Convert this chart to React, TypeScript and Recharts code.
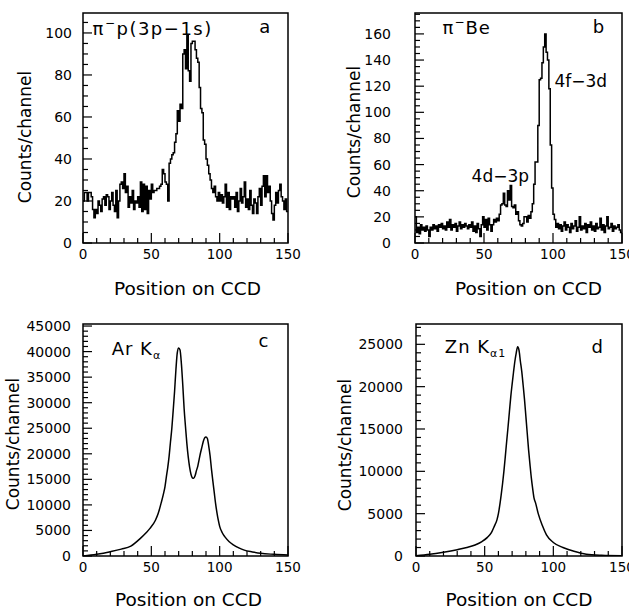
import React from 'react';
import { LineChart, Line, XAxis, YAxis, ReferenceArea, ReferenceDot, Label } from 'recharts';

const FONT = '"DejaVu Sans", "Liberation Sans", Arial, sans-serif';

// values
const xTickLabels = [0, 50, 100, 150];

// panel a: pi- p (3p-1s), one value per CCD channel 0..149
const pipCounts = [
  20, 24, 24, 20, 24, 24, 22, 16, 12, 16,
  14, 20, 18, 15, 21, 22, 18, 23, 22, 16,
  20, 24, 18, 15, 25, 12, 20, 28, 29, 26,
  33, 24, 27, 17, 22, 19, 25, 16, 20, 19,
  22, 17, 29, 15, 28, 16, 27, 14, 25, 21,
  28, 24, 25, 25, 26, 26, 27, 28, 35, 33,
  29, 28, 20, 38, 40, 42, 43, 48, 52, 63,
  58, 66, 64, 90, 92, 83, 99, 82, 77, 95,
  96, 96, 92, 88, 86, 74, 64, 62, 49, 47,
  40, 37, 33, 30, 26, 24, 27, 22, 20, 24,
  20, 23, 19, 22, 28, 17, 24, 16, 22, 21,
  22, 17, 24, 15, 20, 26, 19, 22, 29, 17,
  21, 16, 25, 18, 14, 21, 19, 14, 22, 26,
  18, 27, 32, 22, 32, 24, 27, 20, 14, 11,
  18, 24, 19, 25, 28, 22, 20, 16, 21, 15,
];

// panel b: pi- Be
const piBeCounts = [
  20, 8, 12, 7, 14, 10, 12, 9, 13, 10,
  5, 12, 10, 14, 11, 13, 9, 14, 12, 15,
  11, 13, 10, 16, 12, 18, 10, 14, 12, 15,
  9, 13, 16, 11, 14, 12, 15, 13, 11, 14,
  12, 16, 9, 13, 8, 15, 11, 5, 14, 20,
  12, 18, 10, 19, 14, 9, 14, 18, 16, 19,
  17, 22, 29, 30, 38, 29, 28, 40, 33, 44,
  28, 27, 29, 22, 24, 17, 14, 13, 15, 20,
  20, 16, 21, 19, 24, 30, 45, 62, 62, 90,
  125, 126, 138, 150, 160, 146, 140, 118, 75, 42,
  22, 18, 12, 15, 11, 14, 9, 13, 16, 10,
  14, 12, 8, 15, 11, 13, 17, 9, 12, 20,
  10, 13, 11, 15, 8, 14, 12, 16, 10, 13,
  9, 15, 11, 12, 19, 10, 14, 8, 13, 20,
  11, 12, 15, 9, 13, 11, 12, 14, 10, 8,
];

// panel c: Ar K-alpha
const arChannels = [
  0, 10, 20, 28, 35, 42, 46, 49, 53, 55, 57, 59, 60, 61, 62, 63, 64, 65, 66, 67,
  68, 69, 70, 71, 72, 73, 74, 75, 76, 77, 78, 79, 80, 81, 82, 83, 84, 85, 86, 87,
  88, 89, 90, 91, 92, 93, 94, 95, 96, 97, 98, 99, 100, 102, 104, 107, 110, 114, 118, 124,
  130, 140, 150,
];
const arCounts = [
  0, 350, 850, 1350, 1950, 3450, 4500, 5400, 7000, 8300, 10200, 12300, 13600, 15500, 17300, 19500, 22300, 25000, 28500, 32200,
  36500, 39800, 40700, 40300, 37600, 33500, 28800, 25300, 22000, 19400, 17400, 16000, 15300, 15200, 15700, 16700, 17600, 18900, 20200, 21300,
  22400, 23100, 23300, 23000, 21500, 19600, 17000, 14700, 12500, 10300, 8500, 7000, 5800, 4500, 3700, 2800, 2200, 1600, 1150, 800,
  520, 330, 200,
];

// panel d: Zn K-alpha1
const znChannels = [
  0, 10, 20, 30, 37, 43, 48, 52, 55, 57, 59, 60, 61, 62, 63, 64, 65, 66, 67, 68,
  69, 70, 71, 72, 73, 74, 75, 76, 77, 78, 79, 80, 81, 82, 83, 84, 85, 86, 87, 89,
  92, 95, 100, 107, 115, 124, 135, 150,
];
const znCounts = [
  30, 200, 450, 750, 1000, 1300, 1700, 2200, 2800, 3500, 4300, 5000, 6000, 7200, 8500, 10000, 11700, 13500, 15200, 17000,
  18800, 20300, 21700, 23000, 24000, 24700, 24300, 23000, 21800, 20200, 18500, 16500, 14500, 12500, 10800, 9200, 7900, 6800, 6300, 5000,
  3600, 2500, 1600, 1000, 550, 200, 80, 30,
];

const steps = (counts: number[]) => [
  ...counts.map((y, x) => ({ x, y })),
  { x: counts.length, y: counts[counts.length - 1] },
];
const points = (xs: number[], ys: number[]) => xs.map((x, i) => ({ x, y: ys[i] }));
const range = (to: number, step: number) =>
  Array.from({ length: Math.floor(to / step) + 1 }, (_, i) => i * step);

function XTick(props: any) {
  const { x, y, payload } = props;
  const major = xTickLabels.includes(payload.value);
  return (
    <g>
      <line x1={x} x2={x} y1={y} y2={y - (major ? 10 : 5)} stroke="#000" strokeWidth={1.2} />
      {major && (
        <text x={x} y={y + 16} textAnchor="middle" fontSize={13.5} fontFamily={FONT} fill="#000">
          {payload.value}
        </text>
      )}
    </g>
  );
}

function makeYTick(majorStep: number, gap: number) {
  return (props: any) => {
    const { x, y, payload } = props;
    const major = payload.value % majorStep === 0;
    return (
      <g>
        <line x1={x} x2={x + (major ? 9 : 5)} y1={y} y2={y} stroke="#000" strokeWidth={1.2} />
        {major && (
          <text x={x - gap} y={y} dy="0.36em" textAnchor="end" fontSize={14} fontFamily={FONT} fill="#000">
            {payload.value}
          </text>
        )}
      </g>
    );
  };
}

const note =
  (content: React.ReactNode, anchor: 'start' | 'middle' = 'start', size = 17, spacing = 0) =>
  (props: any) => {
    const vb = props.viewBox || {};
    return (
      <text
        x={vb.x}
        y={vb.y}
        textAnchor={anchor}
        fontSize={size}
        letterSpacing={spacing}
        fontFamily={FONT}
        fill="#000"
      >
        {content}
      </text>
    );
  };

type PanelProps = {
  left: number;
  top: number;
  width: number;
  height: number;
  margin: { top: number; right: number; bottom: number; left: number };
  yAxisWidth: number;
  xAxisHeight: number;
  data: { x: number; y: number }[];
  yMax: number;
  yTicks: number[];
  yMajor: number;
  labelGap: number;
  curve: 'stepAfter' | 'monotone';
  yTitle: [number, number];
  xTitle: [number, number];
  children?: React.ReactNode;
};

function Panel(p: PanelProps) {
  return (
    <div style={{ position: 'absolute', left: p.left, top: p.top }}>
      <LineChart width={p.width} height={p.height} data={p.data} margin={p.margin}>
        <XAxis
          dataKey="x"
          type="number"
          domain={[0, 150]}
          ticks={range(150, 10)}
          interval={0}
          allowDataOverflow
          height={p.xAxisHeight}
          axisLine={false}
          tickLine={false}
          tickSize={0}
          tickMargin={0}
          tick={XTick}
        >
          <Label
            value="Position on CCD"
            position="center"
            dx={p.xTitle[0]}
            dy={p.xTitle[1]}
            fontSize={18.5}
            fontFamily={FONT}
            fill="#000"
          />
        </XAxis>
        <YAxis
          type="number"
          domain={[0, p.yMax]}
          ticks={p.yTicks}
          interval={0}
          allowDataOverflow
          width={p.yAxisWidth}
          axisLine={false}
          tickLine={false}
          tickSize={0}
          tickMargin={0}
          tick={makeYTick(p.yMajor, p.labelGap)}
        >
          <Label
            value="Counts/channel"
            angle={-90}
            position="center"
            dx={p.yTitle[0]}
            dy={p.yTitle[1]}
            fontSize={17}
            fontFamily={FONT}
            fill="#000"
          />
        </YAxis>
        <ReferenceArea x1={0} x2={150} y1={0} y2={p.yMax} fill="none" stroke="#000" strokeWidth={1.5} />
        <Line
          type={p.curve}
          dataKey="y"
          stroke="#000"
          strokeWidth={1.5}
          dot={false}
          isAnimationActive={false}
        />
        {p.children}
      </LineChart>
    </div>
  );
}

export default function App() {
  return (
    <div style={{ position: 'absolute', left: 0, top: 0, width: 629, height: 609, background: '#fff', overflow: 'hidden' }}>
      <Panel
        left={0}
        top={0}
        width={310}
        height={300}
        margin={{ top: 13, right: 22, bottom: 0, left: 0 }}
        yAxisWidth={83}
        xAxisHeight={57}
        data={steps(pipCounts)}
        yMax={109.5}
        yTicks={range(105, 5)}
        yMajor={20}
        labelGap={11}
        curve="stepAfter"
        yTitle={[-17, 9]}
        xTitle={[2, 17]}
      >
        <ReferenceDot
          x={7}
          y={99}
          r={0}
          fill="none"
          stroke="none"
          label={note(
            <>
              π<tspan dy={-8} fontSize={12}>−</tspan>
              <tspan dy={8}>p(3p−1s)</tspan>
            </>,
            'start',
            18,
            1.5
          )}
        />
        <ReferenceDot x={133} y={100} r={0} fill="none" stroke="none" label={note('a', 'middle', 18)} />
      </Panel>

      <Panel
        left={310}
        top={0}
        width={319}
        height={300}
        margin={{ top: 13, right: 7, bottom: 0, left: 0 }}
        yAxisWidth={105}
        xAxisHeight={57}
        data={steps(piBeCounts)}
        yMax={176}
        yTicks={range(175, 5)}
        yMajor={20}
        labelGap={24}
        curve="stepAfter"
        yTitle={[-9, 4]}
        xTitle={[10, 17]}
      >
        <ReferenceDot
          x={20}
          y={160}
          r={0}
          fill="none"
          stroke="none"
          label={note(
            <>
              π<tspan dy={-8} fontSize={12}>−</tspan>
              <tspan dy={8}>Be</tspan>
            </>,
            'start',
            18,
            1
          )}
        />
        <ReferenceDot x={133} y={161} r={0} fill="none" stroke="none" label={note('b', 'middle', 18)} />
        <ReferenceDot x={101} y={119} r={0} fill="none" stroke="none" label={note('4f−3d')} />
        <ReferenceDot x={41} y={47} r={0} fill="none" stroke="none" label={note('4d−3p')} />
      </Panel>

      <Panel
        left={0}
        top={300}
        width={310}
        height={309}
        margin={{ top: 24, right: 22, bottom: 0, left: 0 }}
        yAxisWidth={83}
        xAxisHeight={53}
        data={points(arChannels, arCounts)}
        yMax={45400}
        yTicks={range(45000, 1000)}
        yMajor={5000}
        labelGap={12}
        curve="monotone"
        yTitle={[-29, 4]}
        xTitle={[3, 17]}
      >
        <ReferenceDot
          x={21}
          y={39300}
          r={0}
          fill="none"
          stroke="none"
          label={note(
            <>
              Ar K<tspan dy={4} fontSize={11}>α</tspan>
            </>,
            'start',
            18,
            1
          )}
        />
        <ReferenceDot x={132} y={40900} r={0} fill="none" stroke="none" label={note('c', 'middle', 18)} />
      </Panel>

      <Panel
        left={310}
        top={300}
        width={319}
        height={309}
        margin={{ top: 24, right: 7, bottom: 0, left: 0 }}
        yAxisWidth={106}
        xAxisHeight={53}
        data={points(znChannels, znCounts)}
        yMax={27400}
        yTicks={range(27000, 1000)}
        yMajor={5000}
        labelGap={13}
        curve="monotone"
        yTitle={[-18, 5]}
        xTitle={[0, 17]}
      >
        <ReferenceDot
          x={21}
          y={24000}
          r={0}
          fill="none"
          stroke="none"
          label={note(
            <>
              Zn K<tspan dy={4} fontSize={11}>α1</tspan>
            </>,
            'start',
            18,
            1
          )}
        />
        <ReferenceDot x={132} y={24000} r={0} fill="none" stroke="none" label={note('d', 'middle', 18)} />
      </Panel>
    </div>
  );
}
